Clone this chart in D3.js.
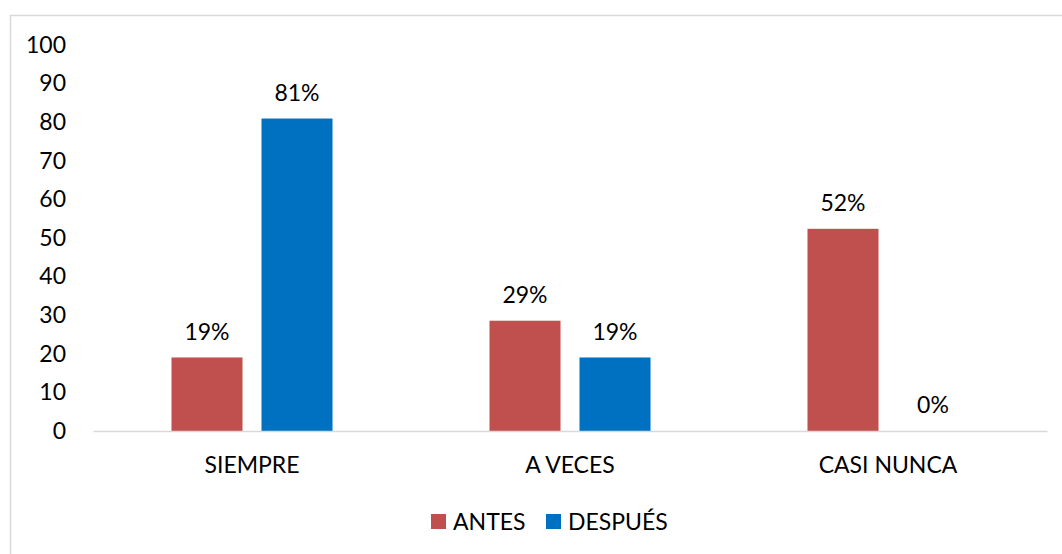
<!DOCTYPE html>
<html>
<head>
<meta charset="utf-8">
<script src="https://cdn.jsdelivr.net/npm/d3@7"></script>
<style>
  html, body { margin: 0; padding: 0; background: #fff; }
  svg { display: block; font-family: Lato, "Open Sans", sans-serif; }
</style>
</head>
<body>
<div id="chart"></div>
<script>
(function () {
  // categorías y series (21 encuestados)
  const categories = ["SIEMPRE", "A VECES", "CASI NUNCA"];
  const seriesNames = ["ANTES", "DESPUÉS"];
  const antes = [19.05, 28.57, 52.38];
  const despues = [80.95, 19.05, 0];
  const valueLabels = [["19%", "81%"], ["29%", "19%"], ["52%", "0%"]];
  const yTicks = [0, 10, 20, 30, 40, 50, 60, 70, 80, 90, 100];

  const colors = ["#c0504d", "#0070c0"];
  const fontSize = "23px";

  const width = 1062;
  const height = 554;
  const margin = { top: 45, right: 15, bottom: 123, left: 93 };

  const svg = d3.select("#chart")
    .append("svg")
    .attr("width", width)
    .attr("height", height);

  // borde del gráfico
  svg.append("rect")
    .attr("x", 10.5)
    .attr("y", 15.5)
    .attr("width", 1100)
    .attr("height", 600)
    .attr("fill", "none")
    .attr("stroke", "#d9d9d9")
    .attr("stroke-width", 1.5);

  const x0 = d3.scaleBand()
    .domain(categories)
    .range([margin.left, width - margin.right]);

  const x1 = d3.scaleBand()
    .domain(seriesNames)
    .range([0, x0.bandwidth()])
    .paddingInner(0.211)
    .paddingOuter(0.872);

  const y = d3.scaleLinear()
    .domain([0, 100])
    .range([height - margin.bottom, margin.top]);

  const rows = categories.map((c, i) => ({
    cat: c,
    vals: [antes[i], despues[i]].map((v, j) => ({ key: seriesNames[j], value: v, label: valueLabels[i][j], j: j }))
  }));

  // eje Y (solo etiquetas)
  const yAxis = svg.append("g")
    .attr("transform", `translate(${margin.left - 27},0)`)
    .call(d3.axisLeft(y).tickValues(yTicks).tickSize(0).tickPadding(0));
  yAxis.select(".domain").remove();
  yAxis.selectAll("text")
    .style("font-size", fontSize)
    .style("fill", "#000")
    .style("font-family", "Lato, 'Open Sans', sans-serif");

  const groups = svg.append("g")
    .selectAll("g")
    .data(rows)
    .enter()
    .append("g")
    .attr("transform", d => `translate(${x0(d.cat)},0)`);

  groups.selectAll("rect")
    .data(d => d.vals)
    .enter()
    .append("rect")
    .attr("x", d => x1(d.key))
    .attr("y", d => y(d.value))
    .attr("width", x1.bandwidth())
    .attr("height", d => y(0) - y(d.value))
    .attr("fill", d => colors[d.j]);

  groups.selectAll("text")
    .data(d => d.vals)
    .enter()
    .append("text")
    .attr("x", d => x1(d.key) + x1.bandwidth() / 2)
    .attr("y", d => y(d.value) - 26)
    .attr("dy", "0.35em")
    .attr("text-anchor", "middle")
    .style("font-size", fontSize)
    .style("fill", "#000")
    .text(d => d.label);

  // eje X
  const xAxis = svg.append("g")
    .attr("transform", `translate(0,${y(0)})`)
    .call(d3.axisBottom(x0).tickSize(0).tickPadding(0));
  xAxis.select(".domain")
    .attr("stroke", "#d9d9d9")
    .attr("stroke-width", 1.5);
  xAxis.selectAll("text")
    .attr("dy", "0.35em")
    .attr("y", 34)
    .style("font-size", fontSize)
    .style("fill", "#000")
    .style("font-family", "Lato, 'Open Sans', sans-serif");

  // leyenda
  const legendX = [431, 546];
  const legend = svg.append("g")
    .selectAll("g")
    .data(seriesNames)
    .enter()
    .append("g")
    .attr("transform", (d, i) => `translate(${legendX[i]},514)`);

  legend.append("rect")
    .attr("width", 15)
    .attr("height", 15)
    .attr("fill", (d, i) => colors[i]);

  legend.append("text")
    .attr("x", 22)
    .attr("y", 8)
    .attr("dy", "0.35em")
    .style("font-size", fontSize)
    .style("fill", "#000")
    .text(d => d);
})();
</script>
</body>
</html>
